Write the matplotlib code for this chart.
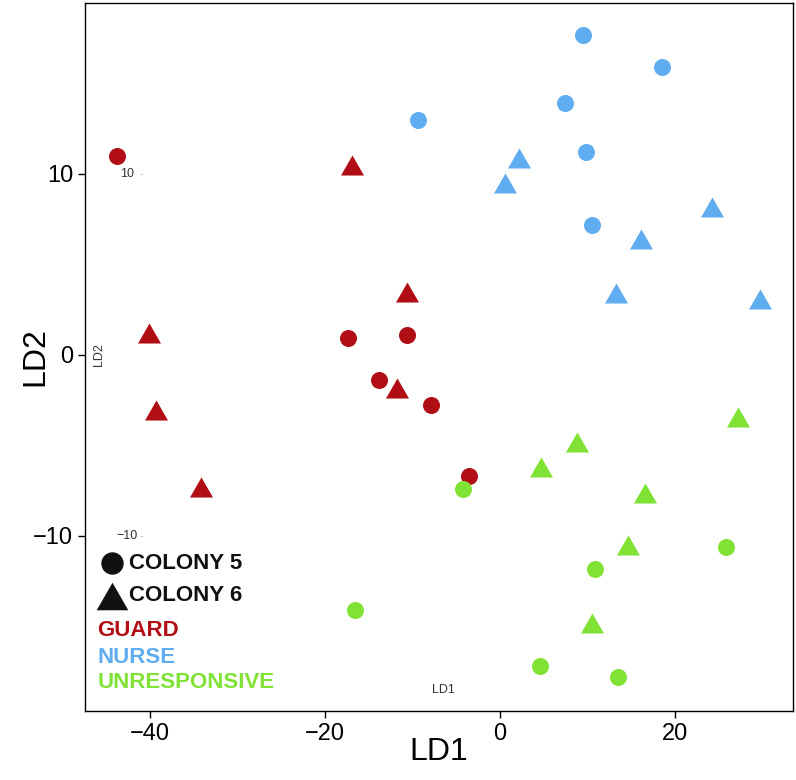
import matplotlib
matplotlib.use("Agg")
import matplotlib.pyplot as plt

plt.rcParams['font.family'] = ['Liberation Sans', 'DejaVu Sans']

# LD1 / LD2 scores
guard_c5_x = [-43.8, -17.4, -13.8, -10.6, -7.9, -3.5]
guard_c5_y = [11.0, 0.94, -1.38, 1.10, -2.76, -6.69]
guard_c6_x = [-16.9, -10.6, -40.1, -11.8, -39.3, -34.2]
guard_c6_y = [10.5, 3.48, 1.22, -1.82, -3.04, -7.29]

nurse_c5_x = [9.5, 18.5, 7.5, -9.4, 9.8, 10.5]
nurse_c5_y = [17.7, 15.9, 13.9, 13.0, 11.2, 7.2]
nurse_c6_x = [2.2, 0.6, 24.3, 16.1, 13.3, 29.7]
nurse_c6_y = [10.9, 9.5, 8.2, 6.4, 3.4, 3.1]

unresp_c5_x = [-4.2, -16.5, 10.9, 25.9, 4.6, 13.5]
unresp_c5_y = [-7.4, -14.1, -11.8, -10.6, -17.2, -17.8]
unresp_c6_x = [8.8, 4.7, 27.2, 16.6, 14.7, 10.5]
unresp_c6_y = [-4.8, -6.2, -3.4, -7.6, -10.5, -14.8]

x_ticks = [-40, -20, 0, 20]
y_ticks = [-10, 0, 10]

red = "#B00E14"
blue = "#5FACF0"
green = "#80E234"

# wide triangle like ggplot's shape 17
tri = [(0, 0.87), (-1, -0.87), (1, -0.87)]

fig = plt.figure(figsize=(7.96, 7.80), dpi=100)
ax = fig.add_axes([0.1068, 0.0885, 0.8894, 0.9077])

groups = [
    (guard_c5_x, guard_c5_y, guard_c6_x, guard_c6_y, red),
    (nurse_c5_x, nurse_c5_y, nurse_c6_x, nurse_c6_y, blue),
    (unresp_c5_x, unresp_c5_y, unresp_c6_x, unresp_c6_y, green),
]
for cx, cy, tx, ty, col in groups:
    ax.scatter(cx, cy, s=150, marker='o', color=col, linewidths=0, zorder=3)
    ax.scatter(tx, ty, s=275, marker=tri, color=col, linewidths=0, zorder=3)

ax.set_xlim(-47.4, 33.5)
ax.set_ylim(-19.67, 19.45)
ax.set_xticks(x_ticks)
ax.set_yticks(y_ticks)
ax.set_xticklabels(["\u221240", "\u221220", "0", "20"])
ax.set_yticklabels(["\u221210", "0", "10"])
ax.tick_params(labelsize=17, length=5, width=1, color='black', labelcolor='black')
for sp in ax.spines.values():
    sp.set_linewidth(1)
    sp.set_color('black')

# axis titles placed where the reference has them
fig.text(0.5515, 0.036, "LD1", fontsize=23, ha='center', va='center')
fig.text(0.044, 0.543, "LD2", fontsize=23, ha='center', va='center', rotation=90)

# leftover inset-axis labels
small = dict(fontsize=9, color='#333333', transform=ax.transData)
ax.text(-42.6, 10.0, "10", ha='center', va='center', **small)
ax.text(-41.0, 10.0, "-", ha='center', va='center', fontsize=8, color='#bbbbbb')
ax.text(-42.6, -10.0, "\u221210", ha='center', va='center', **small)
ax.text(-41.0, -10.0, "-", ha='center', va='center', fontsize=8, color='#bbbbbb')
ax.text(-45.8, 0.0, "LD2", ha='center', va='center', rotation=90, **small)
ax.text(-6.4, -18.5, "LD1", ha='center', va='center', **small)

# legend drawn by hand
ax.scatter([-44.3], [-11.5], s=260, marker='o', color='#111111', linewidths=0, clip_on=False)
ax.scatter([-44.3], [-13.3], s=520, marker=tri, color='#111111', linewidths=0, clip_on=False)
ax.text(-42.4, -11.5, "COLONY 5", fontsize=16, fontweight='bold', color='#111111', va='center')
ax.text(-42.4, -13.3, "COLONY 6", fontsize=16, fontweight='bold', color='#111111', va='center')
ax.text(-46.0, -15.2, "GUARD", fontsize=16, fontweight='bold', color=red, va='center')
ax.text(-46.0, -16.7, "NURSE", fontsize=16, fontweight='bold', color=blue, va='center')
ax.text(-46.0, -18.1, "UNRESPONSIVE", fontsize=16, fontweight='bold', color=green, va='center')

fig.savefig("out.png", dpi=100)
